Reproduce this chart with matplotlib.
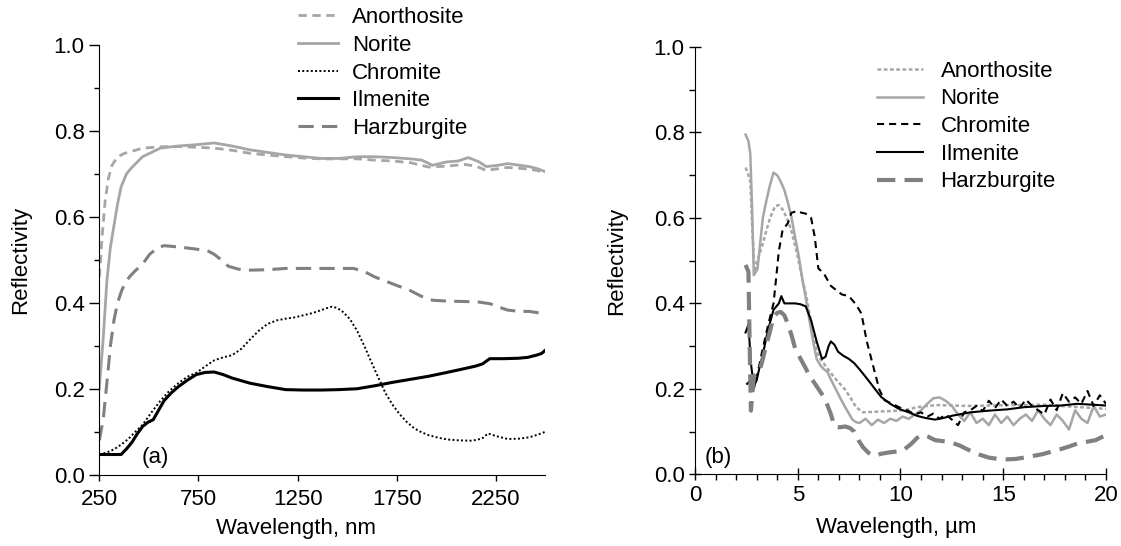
import matplotlib
matplotlib.use("Agg")
import matplotlib.pyplot as plt
from matplotlib.ticker import MultipleLocator, FormatStrFormatter

plt.rcParams['font.family'] = ['Liberation Sans', 'DejaVu Sans']

# ---- panel (a): UV-VIS-NIR, nm ----
nor_a_x = [250, 270, 288, 306, 324, 342, 360, 387, 414, 468, 558, 649, 739, 829, 919, 1009, 1099, 1189, 1279,
           1369, 1459, 1550, 1640, 1730, 1820, 1877, 1930, 2003, 2060, 2111, 2165, 2201, 2260, 2310, 2370, 2418, 2460, 2500]
nor_a_y = [0.20, 0.32, 0.45, 0.53, 0.58, 0.63, 0.67, 0.70, 0.715, 0.74, 0.76, 0.765, 0.768, 0.772, 0.765, 0.756, 0.75, 0.744, 0.74,
           0.736, 0.736, 0.74, 0.74, 0.738, 0.735, 0.732, 0.72, 0.728, 0.73, 0.738, 0.728, 0.717, 0.72, 0.724, 0.72, 0.717, 0.712, 0.705]

ano_a_x = [250, 265, 280, 296, 314, 342, 378, 432, 468, 558, 649, 739, 829, 919, 1009, 1099, 1189, 1279, 1369,
           1459, 1550, 1640, 1730, 1820, 1910, 2000, 2093, 2150, 2201, 2260, 2310, 2370, 2418, 2460, 2500]
ano_a_y = [0.46, 0.56, 0.64, 0.69, 0.72, 0.74, 0.748, 0.755, 0.76, 0.763, 0.764, 0.762, 0.76, 0.755, 0.748, 0.744, 0.74, 0.737, 0.735,
           0.735, 0.735, 0.732, 0.73, 0.726, 0.716, 0.718, 0.722, 0.718, 0.708, 0.712, 0.715, 0.713, 0.711, 0.708, 0.70]

chr_a_x = [250, 290, 324, 360, 396, 432, 468, 513, 558, 603, 649, 694, 739, 784, 829, 874, 919, 964, 1009, 1054, 1099, 1144,
           1189, 1234, 1279, 1324, 1369, 1400, 1423, 1450, 1478, 1514, 1550, 1586, 1622, 1658, 1694, 1730, 1766, 1802, 1838,
           1874, 1910, 1960, 2003, 2060, 2129, 2180, 2210, 2250, 2310, 2370, 2418, 2460, 2500]
chr_a_y = [0.047, 0.052, 0.059, 0.07, 0.083, 0.10, 0.116, 0.145, 0.172, 0.195, 0.213, 0.228, 0.237, 0.252, 0.266, 0.273, 0.278, 0.292, 0.314, 0.335, 0.351, 0.359,
           0.363, 0.366, 0.371, 0.376, 0.383, 0.388, 0.391, 0.388, 0.379, 0.362, 0.335, 0.30, 0.262, 0.225, 0.189, 0.162, 0.14, 0.122, 0.108,
           0.099, 0.092, 0.086, 0.082, 0.08, 0.079, 0.084, 0.096, 0.09, 0.083, 0.084, 0.087, 0.093, 0.10]

ilm_a_x = [250, 300, 360, 387, 414, 441, 468, 495, 522, 549, 576, 612, 649, 694, 739, 784, 829, 874, 919, 1009, 1099,
           1189, 1279, 1369, 1459, 1550, 1640, 1730, 1820, 1910, 2003, 2093, 2150, 2183, 2219, 2290, 2363, 2410, 2453, 2480, 2500]
ilm_a_y = [0.047, 0.047, 0.047, 0.06, 0.075, 0.095, 0.112, 0.122, 0.128, 0.15, 0.172, 0.19, 0.205, 0.22, 0.233, 0.238, 0.239, 0.233, 0.225, 0.213, 0.205,
           0.198, 0.197, 0.197, 0.198, 0.20, 0.207, 0.215, 0.222, 0.229, 0.238, 0.247, 0.253, 0.258, 0.27, 0.27, 0.271, 0.273, 0.278, 0.282, 0.29]

har_a_x = [250, 270, 288, 306, 324, 342, 360, 378, 405, 432, 468, 504, 540, 576, 649, 739, 800, 829, 865, 901, 955, 1009, 1099,
           1189, 1279, 1369, 1450, 1532, 1586, 1640, 1730, 1820, 1875, 1930, 2003, 2093, 2160, 2219, 2265, 2310, 2370, 2418, 2460, 2500]
har_a_y = [0.08, 0.13, 0.213, 0.30, 0.36, 0.40, 0.425, 0.445, 0.462, 0.475, 0.49, 0.513, 0.527, 0.533, 0.53, 0.525, 0.52, 0.513, 0.50, 0.485, 0.478, 0.476, 0.477,
           0.48, 0.48, 0.48, 0.48, 0.48, 0.473, 0.46, 0.444, 0.428, 0.415, 0.406, 0.404, 0.403, 0.402, 0.398, 0.39, 0.383, 0.38, 0.38, 0.377, 0.375]

# ---- panel (b): IR, um ----
nor_b_x = [2.46, 2.6, 2.69, 2.78, 2.86, 3.04, 3.3, 3.47, 3.65, 3.82, 4.0, 4.17, 4.35, 4.52, 4.7, 4.87, 5.05, 5.22, 5.4, 5.57, 5.75, 5.92, 6.1,
           6.27, 6.44, 6.61, 6.79, 6.96, 7.14, 7.31, 7.49, 7.66, 7.84, 8.0, 8.3, 8.6, 8.9, 9.2, 9.5, 9.8, 10.1, 10.4, 10.7, 11.0,
           11.3, 11.6, 11.9, 12.2, 12.5, 12.8, 13.1, 13.4, 13.7, 14.0, 14.3, 14.6, 14.9, 15.2, 15.5, 15.8, 16.1, 16.4, 16.7, 17.0,
           17.3, 17.6, 17.9, 18.2, 18.5, 18.8, 19.1, 19.4, 19.7, 20.0]
nor_b_y = [0.795, 0.78, 0.75, 0.62, 0.466, 0.48, 0.60, 0.64, 0.677, 0.706, 0.70, 0.685, 0.665, 0.636, 0.60, 0.555, 0.51, 0.458, 0.41, 0.36, 0.31, 0.27, 0.255,
           0.246, 0.24, 0.222, 0.205, 0.189, 0.172, 0.157, 0.142, 0.128, 0.122, 0.12, 0.13, 0.115, 0.128, 0.12, 0.13, 0.125, 0.135, 0.13, 0.14, 0.15,
           0.165, 0.178, 0.18, 0.172, 0.16, 0.14, 0.125, 0.145, 0.12, 0.13, 0.115, 0.14, 0.12, 0.135, 0.115, 0.13, 0.14, 0.125, 0.15, 0.13,
           0.115, 0.14, 0.125, 0.105, 0.15, 0.13, 0.12, 0.16, 0.135, 0.14]

ano_b_x = [2.46, 2.6, 2.69, 2.8, 2.91, 3.1, 3.3, 3.47, 3.65, 3.9, 4.08, 4.26, 4.47, 4.69, 4.95, 5.22, 5.4, 5.57, 5.75, 5.92, 6.1, 6.35,
           6.57, 6.79, 7.05, 7.31, 7.58, 7.84, 8.18, 8.6, 9.0, 9.5, 9.93, 10.4, 10.8, 11.3, 11.8, 12.5, 13.2, 14.3, 15.2, 16.0, 17.0, 17.8, 18.8, 20.0]
ano_b_y = [0.718, 0.70, 0.685, 0.56, 0.474, 0.51, 0.54, 0.57, 0.60, 0.628, 0.63, 0.62, 0.60, 0.57, 0.52, 0.458, 0.42, 0.376, 0.33, 0.287, 0.27, 0.254,
           0.24, 0.226, 0.212, 0.198, 0.178, 0.157, 0.145, 0.146, 0.147, 0.148, 0.149, 0.152, 0.157, 0.16, 0.162, 0.161, 0.16, 0.161, 0.162, 0.162, 0.163, 0.16, 0.157, 0.153]

chr_b_x = [2.5, 2.7, 2.86, 3.04, 3.3, 3.56, 3.82, 3.95, 4.08, 4.26, 4.52, 4.69, 4.96, 5.2, 5.39, 5.65, 5.83, 6.0, 6.27, 6.61, 6.9, 7.14,
           7.49, 7.84, 8.1, 8.36, 8.71, 8.97, 9.23, 9.6, 9.93, 10.4, 10.7, 11.0, 11.3, 11.6, 11.9, 12.2, 12.5, 12.8, 13.1, 13.4,
           13.7, 14.0, 14.3, 14.6, 14.9, 15.2, 15.5, 15.8, 16.1, 16.4, 16.7, 17.0, 17.3, 17.6, 17.9, 18.2, 18.5, 18.8, 19.1, 19.4, 19.7, 20.0]
chr_b_y = [0.21, 0.22, 0.20, 0.235, 0.295, 0.35, 0.40, 0.46, 0.523, 0.571, 0.588, 0.612, 0.616, 0.612, 0.61, 0.60, 0.555, 0.482, 0.47, 0.441, 0.43, 0.421,
           0.417, 0.397, 0.376, 0.311, 0.246, 0.198, 0.173, 0.165, 0.157, 0.148, 0.14, 0.145, 0.135, 0.142, 0.13, 0.14, 0.128, 0.115, 0.145, 0.15,
           0.16, 0.148, 0.172, 0.155, 0.175, 0.16, 0.17, 0.155, 0.175, 0.16, 0.15, 0.14, 0.175, 0.15, 0.19, 0.17, 0.18, 0.165, 0.195, 0.16, 0.185, 0.165]

ilm_b_x = [2.46, 2.6, 2.72, 2.86, 3.0, 3.12, 3.3, 3.47, 3.65, 3.82, 4.08, 4.2, 4.35, 4.6, 4.87, 5.13, 5.39, 5.65, 5.92, 6.18, 6.35, 6.5,
           6.61, 6.79, 6.96, 7.2, 7.49, 7.75, 8.0, 8.27, 8.53, 8.8, 9.06, 9.5, 9.93, 10.4, 10.8, 11.2, 11.68, 12.1, 12.5, 13.4, 14.3, 15.2, 16.0, 17.0, 17.8, 18.6, 19.3, 20.0]
ilm_b_y = [0.332, 0.35, 0.26, 0.206, 0.22, 0.246, 0.28, 0.32, 0.355, 0.385, 0.40, 0.417, 0.40, 0.40, 0.40, 0.398, 0.393, 0.36, 0.311, 0.27, 0.275, 0.30,
           0.311, 0.303, 0.287, 0.278, 0.27, 0.26, 0.246, 0.23, 0.214, 0.197, 0.181, 0.165, 0.153, 0.145, 0.137, 0.132, 0.128, 0.132, 0.137, 0.145, 0.149, 0.152, 0.157, 0.16, 0.161, 0.165, 0.163, 0.161]

har_b_x = [2.46, 2.6, 2.66, 2.72, 2.86, 3.12, 3.3, 3.47, 3.65, 3.82, 4.0, 4.17, 4.35, 4.52, 4.7, 4.87, 5.05, 5.22, 5.4, 5.57, 5.75, 5.92,
           6.1, 6.27, 6.44, 6.61, 6.79, 7.05, 7.31, 7.55, 7.75, 7.95, 8.18, 8.45, 8.71, 9.06, 9.41, 9.75, 10.1, 10.54, 10.8, 11.06,
           11.35, 11.68, 12.0, 12.37, 12.9, 13.4, 13.85, 14.3, 14.75, 15.2, 15.6, 16.0, 16.45, 16.9, 17.35, 17.8, 18.2, 18.6, 19.05, 19.5, 20.0]
har_b_y = [0.49, 0.474, 0.30, 0.149, 0.23, 0.238, 0.27, 0.303, 0.335, 0.368, 0.378, 0.38, 0.372, 0.352, 0.325, 0.295, 0.278, 0.263, 0.247, 0.23, 0.218, 0.206,
           0.193, 0.181, 0.162, 0.141, 0.112, 0.11, 0.112, 0.108, 0.10, 0.08, 0.063, 0.05, 0.043, 0.048, 0.051, 0.053, 0.055, 0.072, 0.085, 0.092,
           0.088, 0.08, 0.078, 0.076, 0.067, 0.055, 0.046, 0.039, 0.036, 0.035, 0.036, 0.039, 0.043, 0.047, 0.053, 0.059, 0.065, 0.072, 0.076, 0.08, 0.092]

light = '#a6a6a6'
mid = '#808080'
fs = 16

fig = plt.figure(figsize=(11.21, 5.46), dpi=100)
ax1 = fig.add_axes([0.0886, 0.1306, 0.398, 0.787])
ax2 = fig.add_axes([0.620, 0.1313, 0.3666, 0.7826])

ax1.plot(ano_a_x, ano_a_y, color=light, lw=2, ls=(0, (3, 2)), label='Anorthosite')
ax1.plot(nor_a_x, nor_a_y, color=light, lw=2, ls='-', label='Norite')
ax1.plot(chr_a_x, chr_a_y, color='black', lw=1.4, ls=(0, (1, 1.2)), label='Chromite')
ax1.plot(ilm_a_x, ilm_a_y, color='black', lw=2.2, ls='-', label='Ilmenite')
ax1.plot(har_a_x, har_a_y, color=mid, lw=2.2, ls=(0, (5, 2.7)), label='Harzburgite')

ax2.plot(ano_b_x, ano_b_y, color=light, lw=1.8, ls=(0, (1.5, 1)), label='Anorthosite')
ax2.plot(nor_b_x, nor_b_y, color=light, lw=1.8, ls='-', label='Norite')
ax2.plot(chr_b_x, chr_b_y, color='black', lw=1.5, ls=(0, (3.4, 2.4)), label='Chromite')
ax2.plot(ilm_b_x, ilm_b_y, color='black', lw=1.5, ls='-', label='Ilmenite')
ax2.plot(har_b_x, har_b_y, color=mid, lw=3, ls=(0, (4.4, 2.2)), label='Harzburgite')

for ax in (ax1, ax2):
    ax.spines['top'].set_visible(False)
    ax.spines['right'].set_visible(False)
    ax.set_ylim(0, 1.0)
    ax.yaxis.set_major_locator(MultipleLocator(0.2))
    ax.yaxis.set_minor_locator(MultipleLocator(0.1))
    ax.yaxis.set_major_formatter(FormatStrFormatter('%.1f'))
    ax.tick_params(labelsize=fs)
    ax.set_ylabel('Reflectivity', fontsize=fs)

ax1.tick_params(axis='y', which='major', direction='out', length=7, width=1, pad=3.5)
ax1.tick_params(axis='y', which='minor', direction='out', length=3.5, width=1)
ax1.tick_params(axis='x', which='major', direction='out', length=4, width=1, pad=6)
ax2.tick_params(axis='both', which='major', direction='inout', length=9, width=1, pad=3)
ax2.tick_params(axis='both', which='minor', direction='out', length=4.5, width=1)

ax1.set_xlim(250, 2500)
ax1.set_xticks([250, 750, 1250, 1750, 2250])
ax1.set_xlabel('Wavelength, nm', fontsize=fs)
ax1.text(465, 0.04, '(a)', fontsize=fs, va='center')

ax2.set_xlim(0, 20)
ax2.xaxis.set_major_locator(MultipleLocator(5))
ax2.xaxis.set_minor_locator(MultipleLocator(1))
ax2.set_xlabel('Wavelength, µm', fontsize=fs)
ax2.text(0.45, 0.04, '(b)', fontsize=fs, va='center')

ax1.xaxis.set_label_coords(0.44, -0.10)
ax2.xaxis.set_label_coords(0.49, -0.10)
ax1.yaxis.set_label_coords(-0.152, 0.5)
ax2.yaxis.set_label_coords(-0.165, 0.5)

ax1.legend(loc='upper left', bbox_to_anchor=(0.446, 1.088), frameon=False, fontsize=fs,
           handlelength=1.8, handletextpad=0.6, labelspacing=0.3, borderpad=0, borderaxespad=0)
ax2.legend(loc='upper left', bbox_to_anchor=(0.444, 0.968), frameon=False, fontsize=fs,
           handlelength=2.07, handletextpad=0.77, labelspacing=0.3, borderpad=0, borderaxespad=0)

fig.savefig('out.png', dpi=100)
